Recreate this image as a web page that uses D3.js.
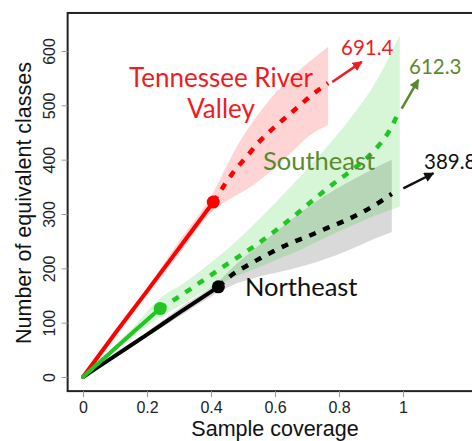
<!DOCTYPE html>
<html><head><meta charset="utf-8">
<script src="https://cdn.jsdelivr.net/npm/d3@7"></script>
<style>html,body{margin:0;padding:0;background:#fff;overflow:hidden}</style>
</head><body>
<svg id="chart" width="472" height="441"></svg>
<script>
// Axis ticks
const xTicks = [0, 0.2, 0.4, 0.6, 0.8, 1];
const xTickLabels = ["0", "0.2", "0.4", "0.6", "0.8", "1"];
const yTicks = [0, 100, 200, 300, 400, 500, 600];

// Tennessee River Valley: rarefied (observed) and extrapolated curves
const tnObsCov = [0, 0.1, 0.2, 0.3, 0.407];
const tnObsN   = [0, 80, 158, 237, 322];
const tnExtCov = [0.407, 0.444, 0.475, 0.511, 0.543, 0.584, 0.626, 0.668, 0.709, 0.766];
const tnExtN   = [322, 355, 381, 405, 428, 452, 474, 495, 516, 541];
// 95% confidence band
const tnBandCov = [0, 0.1, 0.2, 0.3, 0.407, 0.444, 0.475, 0.511, 0.543, 0.584, 0.626, 0.668, 0.709, 0.766];
const tnBandLo  = [0, 77, 152, 226, 307, 322, 333, 345, 358, 377, 399, 423, 445, 464];
const tnBandHi  = [0, 83, 164, 250, 340, 383, 418, 453, 480, 511, 538, 561, 581, 608];

// Southeast
const seObsCov = [0, 0.08, 0.16, 0.241];
const seObsN   = [0, 42, 84, 126];
const seExtCov = [0.241, 0.313, 0.366, 0.428, 0.49, 0.553, 0.605, 0.657, 0.734, 0.781, 0.834, 0.912, 0.953, 0.98];
const seExtN   = [126, 153, 174, 199, 223, 248, 271, 295, 333, 355, 378, 418, 449, 479];
const seBandCov = [0, 0.08, 0.16, 0.241, 0.313, 0.366, 0.428, 0.49, 0.553, 0.605, 0.657, 0.734, 0.834, 0.912, 0.953, 0.99];
const seBandLo  = [0, 39, 77, 110, 135, 153, 171, 188, 203, 216, 228, 250, 277, 297, 306, 314];
const seBandHi  = [0, 46, 94, 145, 172, 195, 224, 256, 292, 323, 355, 405, 475, 540, 585, 630];

// Northeast
const neObsCov = [0, 0.1, 0.2, 0.3, 0.423];
const neObsN   = [0, 39, 78, 118, 166];
const neExtCov = [0.423, 0.47, 0.522, 0.574, 0.647, 0.699, 0.762, 0.824, 0.875, 0.922, 0.965];
const neExtN   = [166, 190, 208, 225, 246, 258, 274, 289, 304, 320, 337];
const neBandCov = [0, 0.1, 0.2, 0.3, 0.423, 0.47, 0.522, 0.574, 0.647, 0.699, 0.762, 0.824, 0.875, 0.922, 0.965];
const neBandLo  = [0, 37, 74, 111, 156, 170, 180, 188, 198, 206, 218, 232, 245, 257, 267];
const neBandHi  = [0, 41, 83, 126, 176, 203, 229, 254, 288, 311, 336, 357, 373, 388, 400];

// Asymptotic estimates
const asymptotes = ["691.4", "612.3", "389.8"];

const svg = d3.select("#chart");
const x = d3.scaleLinear().domain([0, 1]).range([83, 403]);
const y = d3.scaleLinear().domain([0, 600]).range([377, 51]);

const zip = (xs, ys) => xs.map((v, i) => [v, ys[i]]);
const line = d3.line().x(d => x(d[0])).y(d => y(d[1])).curve(d3.curveMonotoneX);
const area = d3.area().x(d => x(d[0])).y0(d => y(d[1])).y1(d => y(d[2])).curve(d3.curveMonotoneX);
const band = (cov, lo, hi) => cov.map((v, i) => [v, lo[i], hi[i]]);

const series = [
  {obs: zip(neObsCov, neObsN), ext: zip(neExtCov, neExtN), band: band(neBandCov, neBandLo, neBandHi),
   line: "#000000", fill: "rgba(0,0,0,0.15)"},
  {obs: zip(tnObsCov, tnObsN), ext: zip(tnExtCov, tnExtN), band: band(tnBandCov, tnBandLo, tnBandHi),
   line: "#ff0000", fill: "rgba(255,0,0,0.17)"},
  {obs: zip(seObsCov, seObsN), ext: zip(seExtCov, seExtN), band: band(seBandCov, seBandLo, seBandHi),
   line: "#22c622", fill: "rgba(20,200,20,0.17)"}
];

// confidence bands
svg.append("g").selectAll("path").data(series).join("path")
  .attr("d", d => area(d.band)).attr("fill", d => d.fill);

// curves: solid = rarefied part, dashed = extrapolated part, dot = reference sample
const cg = svg.append("g");
series.forEach(s => {
  cg.append("path").attr("d", line(s.ext)).attr("fill", "none")
    .attr("stroke", s.line).attr("stroke-width", 4.5).attr("stroke-dasharray", "7,8");
  cg.append("path").attr("d", line(s.obs)).attr("fill", "none")
    .attr("stroke", s.line).attr("stroke-width", 4).attr("stroke-linecap", "round");
  const last = s.obs[s.obs.length - 1];
  cg.append("circle").attr("cx", x(last[0])).attr("cy", y(last[1])).attr("r", 6.5).attr("fill", s.line);
});

// plot frame
const x0 = x(-0.048), x1 = x(1.24), yTop = y(670), yBot = y(-26);
svg.append("rect").attr("x", x0).attr("y", yTop).attr("width", x1 - x0).attr("height", yBot - yTop)
  .attr("fill", "none").attr("stroke", "#222").attr("stroke-width", 2);

// axes
const xAxis = svg.append("g").attr("transform", `translate(0,${yBot})`)
  .call(d3.axisBottom(x).tickValues(xTicks).tickFormat((d, i) => xTickLabels[i]).tickSize(6).tickPadding(5));
xAxis.select(".domain").remove();
xAxis.selectAll(".tick line").attr("stroke", "#999");
xAxis.selectAll("text").attr("font-family", "Liberation Sans, Arial, sans-serif").attr("font-size", 16).attr("fill", "#222");

const yAxis = svg.append("g").attr("transform", `translate(${x0},0)`)
  .call(d3.axisLeft(y).tickValues(yTicks).tickSize(6).tickPadding(0));
yAxis.select(".domain").remove();
yAxis.selectAll(".tick line").attr("stroke", "#999");
yAxis.selectAll("text")
  .attr("font-family", "Liberation Sans, Arial, sans-serif").attr("font-size", 16).attr("fill", "#222")
  .attr("x", null).attr("dy", null).attr("text-anchor", "middle")
  .attr("transform", "translate(-13,0) rotate(-90)");

svg.append("text").attr("x", 275).attr("y", 436).attr("text-anchor", "middle")
  .attr("font-family", "Liberation Sans, Arial, sans-serif").attr("font-size", 21.5).attr("fill", "#111")
  .text("Sample coverage");
svg.append("text").attr("transform", "translate(31,203) rotate(-90)").attr("text-anchor", "middle")
  .attr("font-family", "Liberation Sans, Arial, sans-serif").attr("font-size", 21.5).attr("fill", "#111")
  .text("Number of equivalent classes");

// arrows toward the asymptotic estimates
const defs = svg.append("defs");
const arrows = [
  {from: [0.779, 543], to: [0.871, 580], color: "#ee1c24"},
  {from: [0.996, 494], to: [1.048, 547], color: "#5a8a30"},
  {from: [1.001, 347], to: [1.095, 375], color: "#111111"}
];
arrows.forEach((a, i) => {
  defs.append("marker").attr("id", "ah" + i).attr("viewBox", "0 0 10 10").attr("refX", 9).attr("refY", 5)
    .attr("markerWidth", 4).attr("markerHeight", 4).attr("orient", "auto")
    .append("path").attr("d", "M0,0 L10,5 L0,10 Z").attr("fill", a.color);
  svg.append("line").attr("x1", x(a.from[0])).attr("y1", y(a.from[1]))
    .attr("x2", x(a.to[0])).attr("y2", y(a.to[1]))
    .attr("stroke", a.color).attr("stroke-width", 2.5).attr("marker-end", `url(#ah${i})`);
});

const lab = (tx, ty, txt, color, size, anchor) => svg.append("text").attr("x", tx).attr("y", ty)
  .attr("text-anchor", anchor || "start").attr("font-family", "Lato, 'Open Sans', sans-serif")
  .attr("font-size", size).attr("fill", color).text(txt);

lab(341, 55, asymptotes[0], "#ee1c24", 20.5);
lab(409, 74, asymptotes[1], "#5a8a30", 20.5);
lab(424, 169, asymptotes[2], "#111111", 20.5);

lab(221, 87, "Tennessee River", "#ee1c24", 26, "middle");
lab(221, 118, "Valley", "#ee1c24", 26, "middle");
lab(263, 170, "Southeast", "#5a8a30", 25.5);
lab(245, 296, "Northeast", "#111111", 25.5);
</script>
</body></html>
